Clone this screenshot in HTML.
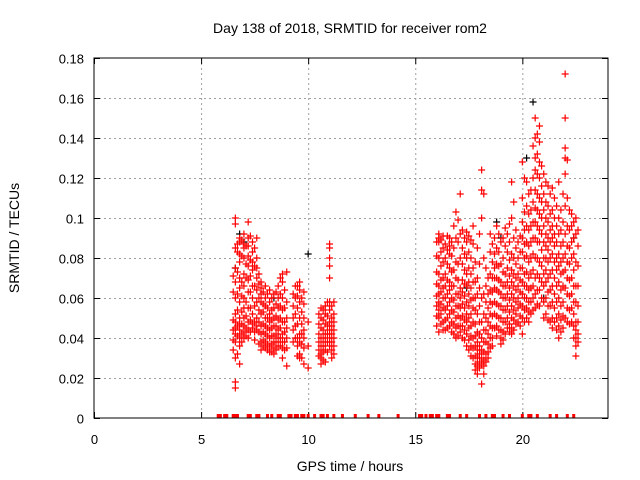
<!DOCTYPE html>
<html><head><meta charset="utf-8"><style>
body{margin:0;background:#fff;}
svg{display:block;font-family:"Liberation Sans",sans-serif;}
</style></head><body>
<svg id="chart" width="640" height="480" viewBox="0 0 640 480">
<text x="350" y="33" font-size="14" text-anchor="middle">Day 138 of 2018, SRMTID for receiver rom2</text>
<text x="19" y="238" font-size="14" text-anchor="middle" transform="rotate(-90 19 238)">SRMTID / TECUs</text>
<text x="350" y="471" font-size="14" text-anchor="middle">GPS time / hours</text>
<g id="grid"></g>
<g id="ticks"></g>
<g id="marks"></g>
<rect x="94" y="58" width="514" height="360" fill="none" stroke="#000" stroke-width="1"/>
</svg>
<script>
const xTicks=[0,5,10,15,20];
const yTicks=[0,0.02,0.04,0.06,0.08,0.1,0.12,0.14,0.16,0.18];
const yTickLabels=["0","0.02","0.04","0.06","0.08","0.1","0.12","0.14","0.16","0.18"];
const redTimes=[6.6,6.8,7.0,7.2,7.4,7.6,7.8,8.0,8.2,8.4,8.6,8.8,9.0,9.4,9.6,9.8,10.0,10.6,10.8,11.0,11.2,
16.1,16.3,16.6,16.9,17.1,17.4,17.7,17.9,18.1,18.3,18.5,18.7,19.0,19.2,19.5,19.8,20.0,20.3,20.6,20.8,21.1,21.4,21.7,22.0,22.3,22.5];
const redValues=[
[.100,.097,.085,.075,.068,.060,.052,.048,.045,.042,.038,.030,.018,.015],
[.090,.088,.082,.078,.070,.065,.058,.050,.047,.044,.040,.036,.027],
[.092,.087,.085,.080,.072,.066,.060,.055,.050,.046,.043,.040],
[.098,.090,.086,.081,.076,.069,.063,.055,.048,.044,.040],
[.088,.083,.078,.074,.066,.060,.052,.047,.045],
[.090,.080,.075,.070,.064,.058,.050,.046,.044],
[.068,.065,.062,.058,.052,.046,.042,.038,.034],
[.066,.060,.056,.050,.046,.042,.038,.035],
[.064,.058,.052,.048,.044,.040,.036,.033],
[.062,.055,.050,.046,.041,.038,.035,.032],
[.066,.060,.055,.049,.044,.040,.036],
[.072,.068,.060,.054,.048,.042,.038,.035,.030],
[.073,.058,.050,.045,.040,.035,.026],
[.066,.060,.052,.046,.040],
[.068,.064,.058,.050,.042,.038,.032,.030],
[.063,.057,.050,.044,.040,.035,.027],
[.048,.036,.025],
[.055,.050,.045,.040,.036,.032,.030,.027],
[.056,.052,.047,.042,.038,.034,.028],
[.087,.085,.080,.076,.070,.058,.054,.048,.044,.040,.036],
[.058,.052,.048,.044,.040,.036,.032],
[.092,.090,.088,.080,.072,.066,.062,.058,.054,.050,.043],
[.091,.085,.078,.070,.065,.060,.055,.048,.044],
[.090,.086,.082,.075,.068,.064,.058,.052,.046],
[.103,.090,.078,.070,.062,.056,.050,.045,.040],
[.112,.092,.080,.065,.060,.055,.050,.046,.043],
[.093,.088,.080,.072,.066,.058,.052,.048,.042,.036],
[.096,.087,.075,.068,.060,.055,.048,.040,.035,.030],
[.085,.070,.062,.052,.043,.038,.034,.030,.026,.022],
[.124,.114,.100,.060,.048,.040,.034,.030,.027,.017],
[.075,.066,.058,.050,.044,.038,.032,.028],
[.092,.083,.072,.064,.058,.052,.046,.040,.035],
[.090,.082,.075,.070,.065,.058,.052,.045],
[.088,.077,.068,.062,.056,.050,.044,.040,.037],
[.095,.086,.072,.066,.060,.054,.048,.042],
[.118,.100,.082,.074,.068,.062,.056,.050,.045,.042],
[.088,.080,.072,.066,.060,.055,.048],
[.128,.110,.098,.090,.083,.075,.068,.062,.056,.050,.042],
[.112,.102,.094,.086,.078,.070,.064,.058,.053,.048],
[.150,.140,.130,.124,.114,.105,.098,.090,.080,.070,.062,.055],
[.146,.138,.128,.120,.110,.102,.094,.088,.078,.070,.064,.056],
[.118,.108,.100,.092,.086,.080,.074,.068,.060,.052],
[.115,.104,.096,.090,.082,.074,.066,.058,.050,.045],
[.118,.100,.092,.082,.076,.068,.060,.052,.046,.040],
[.172,.150,.135,.130,.122,.106,.092,.082,.074,.065,.050],
[.102,.096,.088,.080,.070,.062,.055,.048],
[.100,.092,.078,.066,.058,.048,.044,.040,.036,.031]];
const extraTimes=[6.5,6.7,6.9,7.1,7.3,7.5,7.7,7.9,8.1,8.3,8.5,8.7,8.9,9.3,9.5,9.7,10.5,10.7,10.9,11.1,
16.0,16.2,16.4,16.5,16.7,16.8,17.0,17.2,17.3,17.5,17.6,17.8,18.0,18.2,18.4,18.6,18.8,18.9,19.1,19.3,19.4,19.6,19.7,19.9,20.1,20.2,20.4,20.5,20.7,20.9,21.0,21.2,21.3,21.5,21.6,21.8,21.9,22.1,22.2,22.4,22.6];
const extraValues=[
[.071,.063,.049,.044,.039,.034],[.087,.083,.073,.062,.054,.046,.041,.032],[.089,.081,.068,.061,.053,.047,.042,.038],
[.086,.077,.070,.058,.051,.045,.041],[.091,.079,.071,.063,.055,.049,.043],[.085,.076,.066,.056,.048,.043,.039],
[.072,.067,.060,.054,.048,.043,.037],[.063,.057,.053,.047,.043,.039,.036],[.062,.055,.050,.045,.041,.037,.034],
[.060,.054,.049,.045,.041,.037,.033],[.063,.057,.051,.046,.042,.038,.034],[.070,.062,.056,.050,.045,.040,.036],
[.064,.055,.048,.043,.038,.034],[.062,.056,.050,.044,.038],[.066,.061,.055,.047,.040,.036,.031],
[.060,.053,.047,.042,.037,.030],[.052,.047,.042,.038,.034,.031],[.054,.049,.044,.040,.036,.033,.029],
[.058,.051,.046,.042,.038,.033],[.056,.050,.046,.042,.038,.034,.030],
[.088,.081,.073,.067,.061,.056,.051,.046],[.089,.083,.076,.069,.063,.057,.052,.047],[.087,.080,.072,.066,.060,.054,.049,.044],
[.091,.084,.077,.069,.062,.056,.050,.045],[.088,.081,.073,.066,.060,.054,.048,.043],[.096,.085,.074,.066,.059,.053,.047,.042],
[.099,.088,.077,.069,.062,.056,.051,.046,.041],[.094,.085,.077,.069,.063,.057,.051,.046,.040],[.090,.082,.074,.067,.061,.055,.049,.044,.039],
[.091,.083,.075,.068,.062,.056,.050,.045,.039,.034],[.089,.080,.072,.065,.059,.052,.046,.041,.036,.031],[.078,.068,.060,.054,.047,.041,.036,.031,.027,.024],
[.092,.077,.065,.056,.048,.042,.036,.032,.028,.025],[.112,.080,.062,.052,.044,.038,.033,.029,.026,.022],[.070,.062,.055,.048,.042,.037,.033,.030],
[.087,.078,.070,.063,.057,.051,.045,.040,.036],[.096,.085,.077,.070,.064,.057,.051,.046,.041],[.092,.083,.076,.069,.063,.056,.050,.044],
[.090,.080,.073,.066,.060,.054,.048,.043,.039],[.092,.083,.075,.068,.062,.056,.050,.045],[.097,.088,.079,.071,.065,.059,.053,.047,.043],
[.108,.090,.080,.072,.066,.060,.054,.049,.044],[.094,.085,.077,.070,.064,.058,.052,.047],[.091,.083,.075,.069,.063,.057,.051,.046],
[.120,.103,.094,.087,.080,.072,.066,.060,.054,.048],[.118,.106,.096,.088,.081,.073,.066,.060,.055,.050],[.114,.104,.096,.088,.080,.072,.065,.058,.052],
[.136,.120,.108,.098,.090,.082,.074,.066,.060,.054],[.142,.132,.122,.112,.104,.096,.088,.080,.072,.064,.057],[.126,.116,.108,.100,.092,.084,.076,.068,.060],
[.122,.112,.104,.096,.088,.080,.072,.066,.058,.050],[.116,.106,.098,.090,.084,.078,.070,.063,.056,.049],[.112,.102,.094,.088,.080,.072,.064,.056,.048],
[.110,.100,.092,.086,.078,.070,.062,.055,.048],[.106,.096,.088,.080,.074,.066,.058,.050,.044],[.104,.094,.086,.078,.072,.064,.056,.049,.043],
[.112,.098,.088,.080,.073,.066,.058,.051,.045],[.129,.110,.096,.086,.078,.070,.062,.055,.048],[.104,.094,.085,.077,.069,.061,.054,.047],
[.098,.090,.082,.074,.066,.058,.052,.046,.040],[.094,.086,.076,.066,.056,.048,.042,.038]];
const zeroTimes=[5.8,5.9,6.1,6.2,6.5,6.6,6.7,7.2,7.3,7.6,7.7,8.1,8.3,8.6,8.7,9.1,9.2,9.4,9.5,9.7,9.8,10.0,10.3,10.6,10.7,10.9,11.2,11.6,12.2,12.8,13.3,14.2,15.2,15.3,15.5,15.7,15.8,16.0,16.1,16.5,16.6,17.1,17.4,18.0,18.3,18.6,18.7,19.1,19.4,20.0,20.3,20.4,20.7,21.3,21.6,22.1,22.4];
const blackTimes=[6.6,6.8,7.0,8.4,10.0,17.4,18.8,19.0,20.2,20.5,21.0,22.4];
const blackValues=[.075,.092,.088,.060,.082,.065,.098,.090,.130,.158,.060,.090];

const NS="http://www.w3.org/2000/svg";
const X0=94,X1=608,Y0=418,Y1=58;
const sx=t=>X0+t/24*(X1-X0);
const sy=v=>Y0-v/0.18*(Y0-Y1);
const grid=document.getElementById('grid'),ticks=document.getElementById('ticks'),marks=document.getElementById('marks');
function mk(tag,attrs,parent){const e=document.createElementNS(NS,tag);for(const k in attrs)e.setAttribute(k,attrs[k]);parent.appendChild(e);return e;}
yTicks.forEach((v,i)=>{
  const y=sy(v)+0.5;
  if(i>0&&i<yTicks.length-1){const g=mk('line',{x1:X0,x2:X1,y1:y,y2:y,stroke:'#a0a0a0','stroke-dasharray':'2,3'},grid);
  
  }
  mk('line',{x1:X0,x2:X0+6,y1:y,y2:y,stroke:'#000'},ticks);
  mk('line',{x1:X1-6,x2:X1,y1:y,y2:y,stroke:'#000'},ticks);
  const t=mk('text',{x:X0-10,y:y+5,'font-size':'13','text-anchor':'end'},ticks);
  t.textContent=yTickLabels[i];
  
  
});
xTicks.forEach(v=>{
  const x=sx(v)+0.5;
  if(v>0){const g=mk('line',{x1:x,x2:x,y1:Y1,y2:Y0,stroke:'#a0a0a0','stroke-dasharray':'2,3'},grid);
  
  }
  mk('line',{x1:x,x2:x,y1:Y0,y2:Y0-6,stroke:'#000'},ticks);
  mk('line',{x1:x,x2:x,y1:Y1,y2:Y1+6,stroke:'#000'},ticks);
  const t=mk('text',{x:x,y:Y0+26,'font-size':'13','text-anchor':'middle'},ticks);
  t.textContent=String(v);
  
  
});
function plus(t,v,color,name){
  const x=sx(t),y=sy(v);
  const p=mk('path',{d:`M${x-3.5} ${y}H${x+3.5}M${x} ${y-3.5}V${y+3.5}`,stroke:color,'stroke-width':'1.2',fill:'none'},marks);
  
  
}
blackTimes.forEach((t,i)=>plus(t,blackValues[i],'#000','black-point'));
redTimes.forEach((t,i)=>redValues[i].forEach(v=>plus(t,v,'#ff0000','red-point')));
extraTimes.forEach((t,i)=>extraValues[i].forEach(v=>plus(t,v,'#ff0000','red-point')));
zeroTimes.forEach(t=>{
  const x=sx(t);
  const r=mk('rect',{x:x-1.5,y:Y0-4,width:3,height:4,fill:'#ff0000'},marks);
  
  
});
</script>
</body></html>
